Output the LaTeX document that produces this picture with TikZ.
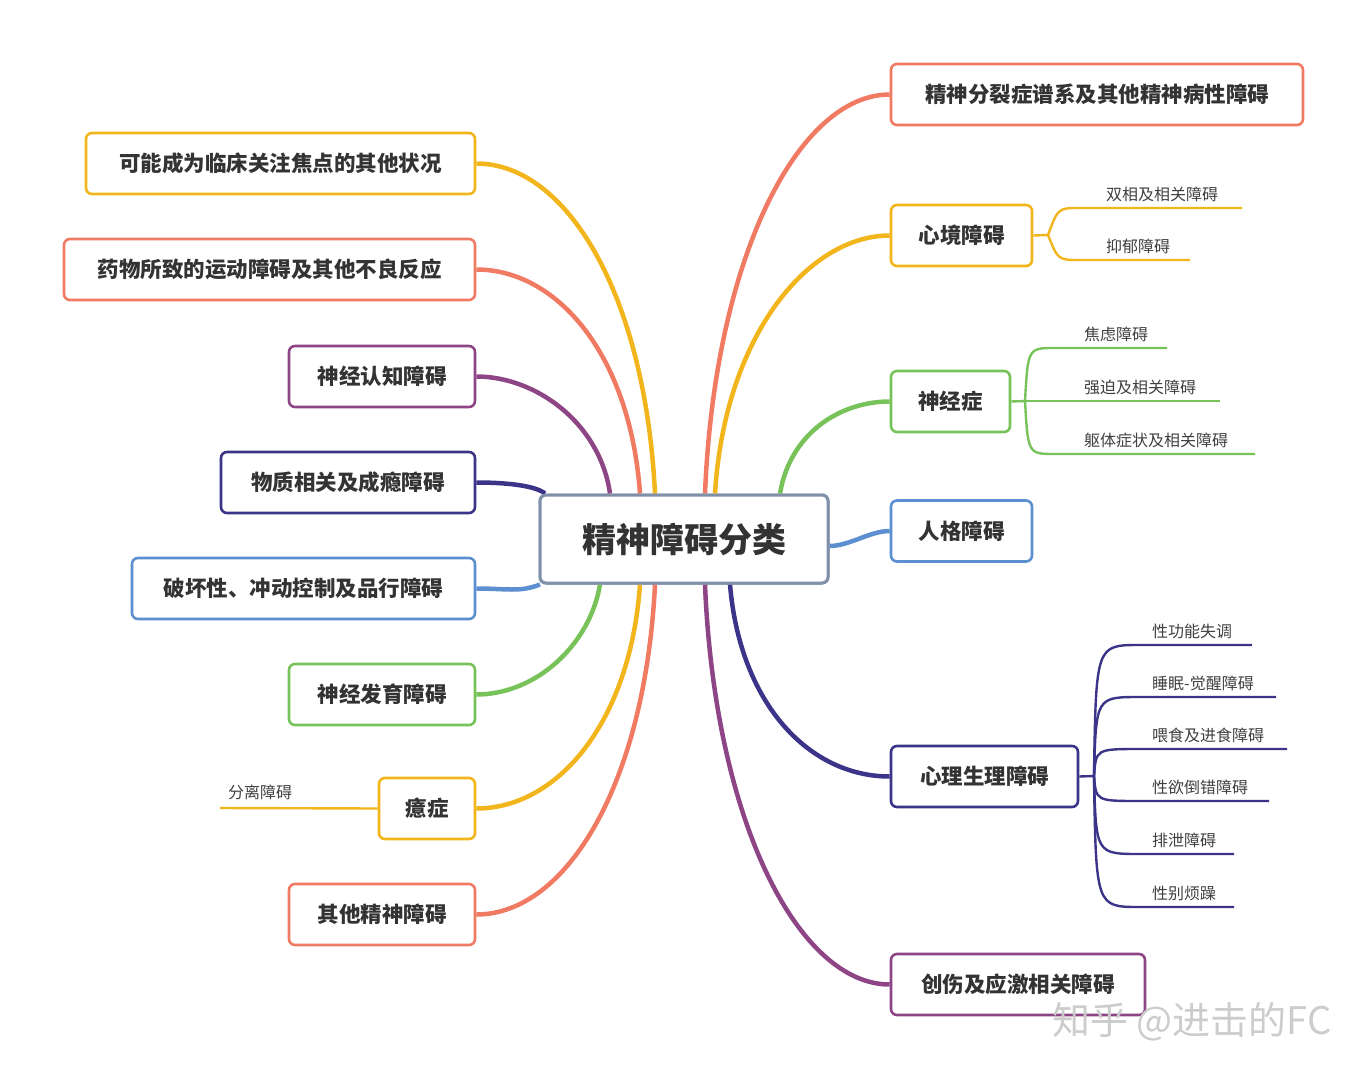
\documentclass[tikz,border=0pt]{standalone}
\usepackage{fontspec}
\setmainfont{Noto Sans CJK SC}
\definecolor{cred}{HTML}{F07A62}
\definecolor{cyel}{HTML}{F2B51C}
\definecolor{cpur}{HTML}{8E4585}
\definecolor{cnav}{HTML}{3C3489}
\definecolor{cblu}{HTML}{5B8FD0}
\definecolor{cgrn}{HTML}{78C25A}
\definecolor{cgry}{HTML}{8090A8}
\tikzset{
 box/.style={draw, line width=2.6pt, rounded corners=6pt, fill=white, minimum height=61pt, inner sep=0pt, font=\fontsize{21.5}{26}\selectfont\bfseries, text=black!80},
 br/.style={line width=4.5pt},
 sub/.style={line width=2.4pt},
 lab/.style={anchor=south west, inner sep=2pt, yshift=4pt, font=\fontsize{16}{19}\selectfont, text=black!75},
}
\begin{document}
\begin{tikzpicture}[x=1pt,y=-1pt]
\useasboundingbox (0,0) rectangle (1365,1078);
% right nodes
\node[box,draw=cred,minimum width=412pt] (r1) at (1097,94.5) {精神分裂症谱系及其他精神病性障碍};
\node[box,draw=cyel,minimum width=141pt] (r2) at (961.5,235.5) {心境障碍};
\node[box,draw=cgrn,minimum width=119pt] (r3) at (950.5,401.5) {神经症};
\node[box,draw=cblu,minimum width=141pt] (r4) at (961.5,531) {人格障碍};
\node[box,draw=cnav,minimum width=187pt] (r5) at (984.5,776.5) {心理生理障碍};
\node[box,draw=cpur,minimum width=254pt] (r6) at (1018,984.5) {创伤及应激相关障碍};
% left nodes
\node[box,draw=cyel,minimum width=389pt] (l1) at (280.5,163.5) {可能成为临床关注焦点的其他状况};
\node[box,draw=cred,minimum width=411pt] (l2) at (269.5,269.5) {药物所致的运动障碍及其他不良反应};
\node[box,draw=cpur,minimum width=186pt] (l3) at (382,376.5) {神经认知障碍};
\node[box,draw=cnav,minimum width=254pt] (l4) at (348,482.5) {物质相关及成瘾障碍};
\node[box,draw=cblu,minimum width=343pt] (l5) at (303.5,588.5) {破坏性、冲动控制及品行障碍};
\node[box,draw=cgrn,minimum width=186pt] (l6) at (382,694.5) {神经发育障碍};
\node[box,draw=cyel,minimum width=96pt] (l7) at (427,808.5) {癔症};
\node[box,draw=cred,minimum width=186pt] (l8) at (382,914.5) {其他精神障碍};
% center (for anchors)
\node[box,draw=cgry,line width=3pt,minimum width=288pt,minimum height=88pt,font=\fontsize{34}{40}\selectfont\bfseries] (c) at (684,539) {精神障碍分类};
% connectors left
\draw[br,cyel] ([xshift=-29pt]c.north) .. controls +(-10,-200) and +(90,0) .. (l1.east);
\draw[br,cred] ([xshift=-44pt]c.north) .. controls +(-10,-140) and +(80,0) .. (l2.east);
\draw[br,cpur] ([xshift=-74pt]c.north) .. controls +(-10,-70) and +(60,0) .. (l3.east);
\draw[br,cnav] ([xshift=-139pt]c.north) .. controls +(-10,-8) and +(30,0) .. (l4.east);
\draw[br,cblu] ([xshift=-144pt]c.south) .. controls +(-20,8) and +(30,0) .. (l5.east);
\draw[br,cgrn] ([xshift=-84pt]c.south) .. controls +(-10,60) and +(60,0) .. (l6.east);
\draw[br,cyel] ([xshift=-44pt]c.south) .. controls +(-10,140) and +(80,0) .. (l7.east);
\draw[br,cred] ([xshift=-29pt]c.south) .. controls +(-10,200) and +(90,0) .. (l8.east);
% connectors right
\draw[br,cred] ([xshift=21pt]c.north) .. controls +(10,-240) and +(-90,0) .. (r1.west);
\draw[br,cyel] ([xshift=31pt]c.north) .. controls +(10,-160) and +(-80,0) .. (r2.west);
\draw[br,cgrn] ([xshift=96pt]c.north) .. controls +(10,-60) and +(-50,0) .. (r3.west);
\draw[br,cblu] ([yshift=-7pt]c.east) .. controls +(20,0) and +(-20,0) .. (r4.west);
\draw[br,cnav] ([xshift=46pt]c.south) .. controls +(10,120) and +(-80,0) .. (r5.west);
\draw[br,cpur] ([xshift=21pt]c.south) .. controls +(10,240) and +(-90,0) .. (r6.west);
% center on top
\node[box,draw=cgry,line width=3pt,minimum width=288pt,minimum height=88pt,font=\fontsize{34}{40}\selectfont\bfseries] at (684,539) {精神障碍分类};
% mood
\coordinate (m0) at (1048,235);
\coordinate (ma) at (1242,208); \coordinate (mb) at (1190,260);
\draw[sub,cyel] (r2.east) -- (m0) .. controls (1058,208) .. (1080,208) -- (ma);
\draw[sub,cyel] (m0) .. controls (1058,260) .. (1080,260) -- (mb);
\node[lab] at (1104,208) {双相及相关障碍};
\node[lab] at (1104,260) {抑郁障碍};
% neurosis
\coordinate (n0) at (1025,401);
\coordinate (na) at (1167,348); \coordinate (nb) at (1220,401); \coordinate (nc) at (1255,454);
\draw[sub,cgrn] (r3.east) -- (n0) .. controls (1028,348) .. (1055,348) -- (na);
\draw[sub,cgrn] (n0) -- (nb);
\draw[sub,cgrn] (n0) .. controls (1028,454) .. (1055,454) -- (nc);
\node[lab] at (1082,348) {焦虑障碍};
\node[lab] at (1082,401) {强迫及相关障碍};
\node[lab] at (1082,454) {躯体症状及相关障碍};
% psychophysiological
\coordinate (p0) at (1094,776);
\draw[sub,cnav] (r5.east) -- (p0);
\foreach \yy/\ee/\tt in {645/1252/性功能失调,697/1276/睡眠-觉醒障碍,749/1287/喂食及进食障碍,801/1269/性欲倒错障碍,854/1234/排泄障碍,907/1234/性别烦躁}{
 \draw[sub,cnav] (p0) .. controls (1096,\yy) .. (1140,\yy) -- (\ee,\yy);
 \node[lab] at (1150,\yy) {\tt};
}
% hysteria
\coordinate (h1) at (220,808);
\draw[sub,cyel] (l7.west) -- (h1);
\node[lab] at (226,806) {分离障碍};
% watermark
\node[anchor=east,text=black!20,font=\fontsize{38}{44}\selectfont] (wm) at (1335,1022) {知乎 @进击的FC};
\end{tikzpicture}
\end{document}
